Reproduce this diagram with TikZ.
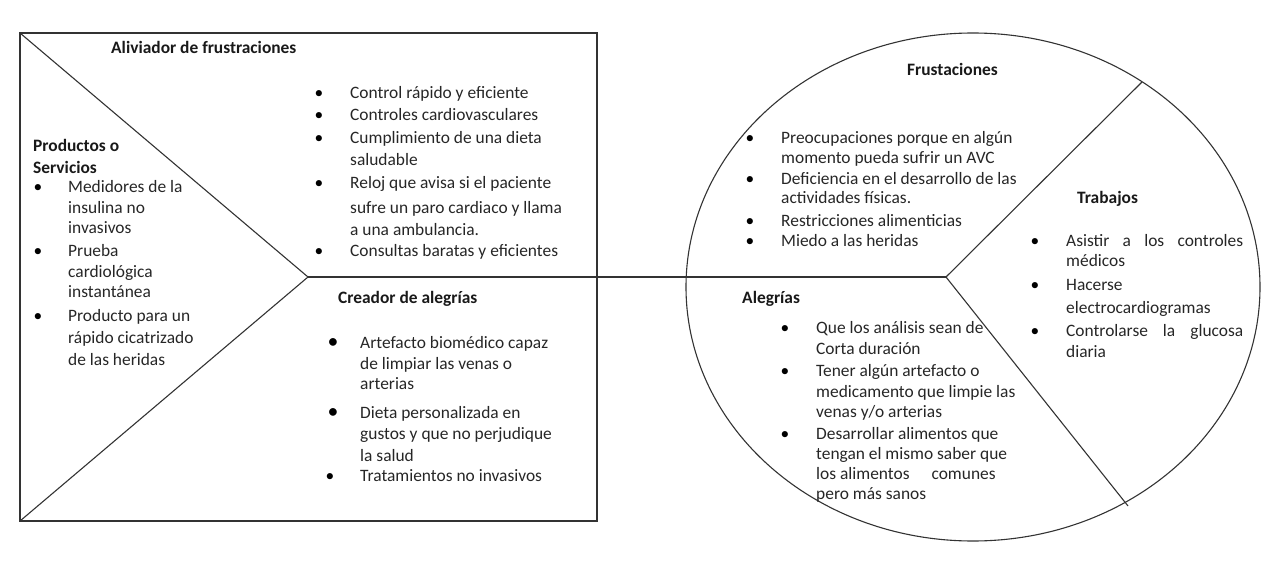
\documentclass[tikz,border=0pt]{standalone}
\usepackage{fontspec}
\setmainfont{Carlito}
\begin{document}
\begin{tikzpicture}[x=1pt,y=-1pt,
  ln/.style={line width=1.1pt, draw=black!80},
  tx/.style={anchor=base west, inner sep=0pt, yshift=-1pt, font=\fontsize{17.4}{21}\selectfont, text=black!85},
  hd/.style={anchor=base west, inner sep=0pt, yshift=-1pt, font=\fontsize{17.4}{21}\selectfont\bfseries, text=black!90},
  bu/.style={anchor=base, inner sep=0pt, yshift=-1pt, font=\fontsize{17.4}{21}\selectfont, text=black}]
\useasboundingbox (0,0) rectangle (1280,575);
% ---- shapes ----
\coordinate (tl) at (20,33);
\coordinate (br) at (597,521);
\coordinate (bl) at (20,521);
\coordinate (v1) at (308,277);
\coordinate (v2) at (946,277);
\coordinate (eu) at (1142,82);
\coordinate (ed) at (1128,506);
\coordinate (ec) at (973,287);
\draw[ln] (tl) rectangle (br);
\draw[ln] (tl) -- (v1) -- (bl);
\draw[ln] (v1) -- (v2);
\draw[ln] (ec) ellipse [x radius=287, y radius=254];
\draw[ln] (eu) -- (v2) -- (ed);

% Productos o Servicios
\node[hd] (p1) at (33,151) {Productos o};
\node[hd] (p2) at (33,172) {Servicios};
\node[bu] (pb1) at (38,192) {•};
\node[tx] (p3) at (68,192) {Medidores de la};
\node[tx] (p4) at (68,212) {insulina no};
\node[tx] (p5) at (68,232) {invasivos};
\node[bu] (pb2) at (38,255) {•};
\node[tx] (p6) at (68,255) {Prueba};
\node[tx] (p7) at (68,276) {cardiológica};
\node[tx] (p8) at (68,296) {instantánea};
\node[bu] (pb3) at (38,320) {•};
\node[tx] (p9) at (68,320) {Producto para un};
\node[tx] (p10) at (68,342) {rápido cicatrizado};
\node[tx] (p11) at (68,364) {de las heridas};

% Aliviador de frustraciones
\node[hd] (a0) at (111,53) {Aliviador de frustraciones};
\node[bu] (ab1) at (319,98) {•};
\node[tx] (a1) at (350,98) {Control rápido y eficiente};
\node[bu] (ab2) at (319,120) {•};
\node[tx] (a2) at (350,120) {Controles cardiovasculares};
\node[bu] (ab3) at (319,143) {•};
\node[tx] (a3) at (350,143) {Cumplimiento de una dieta};
\node[tx] (a4) at (350,165) {saludable};
\node[bu] (ab4) at (319,188) {•};
\node[tx] (a5) at (350,188) {Reloj que avisa si el paciente};
\node[tx] (a6) at (350,212) {sufre un paro cardiaco y llama};
\node[tx] (a7) at (350,234) {a una ambulancia.};
\node[bu] (ab5) at (319,255) {•};
\node[tx] (a8) at (350,255) {Consultas baratas y eficientes};

% Creador de alegrias
\node[hd] (c0) at (338,302) {Creador de alegrías};
\node[bu,scale=1.25] (cb1) at (333,347) {•};
\node[tx] (c1) at (360,347) {Artefacto biomédico capaz};
\node[tx] (c2) at (360,368) {de limpiar las venas o};
\node[tx] (c3) at (360,388) {arterias};
\node[bu,scale=1.25] (cb2) at (333,417) {•};
\node[tx] (c4) at (360,417) {Dieta personalizada en};
\node[tx] (c5) at (360,438) {gustos y que no perjudique};
\node[tx] (c6) at (360,460) {la salud};
\node[bu] (cb3) at (330,480) {•};
\node[tx] (c7) at (360,480) {Tratamientos no invasivos};

% Frustaciones
\node[hd] (f0) at (907,75) {Frustaciones};
\node[bu] (fb1) at (750,143) {•};
\node[tx] (f1) at (781,143) {Preocupaciones porque en algún};
\node[tx] (f2) at (781,163) {momento pueda sufrir un AVC};
\node[bu] (fb2) at (750,183) {•};
\node[tx] (f3) at (781,183) {Deficiencia en el desarrollo de las};
\node[tx] (f4) at (781,202) {actividades físicas.};
\node[bu] (fb3) at (750,225) {•};
\node[tx] (f5) at (781,225) {Restricciones alimenticias};
\node[bu] (fb4) at (750,245) {•};
\node[tx] (f6) at (781,245) {Miedo a las heridas};

% Trabajos
\node[hd] (t0) at (1077,202) {Trabajos};
\node[bu] (tb1) at (1035,245) {•};
\node[tx] (t1) at (1066,245) {\makebox[177pt][s]{Asistir a los controles}};
\node[tx] (t2) at (1066,265) {médicos};
\node[bu] (tb2) at (1035,289) {•};
\node[tx] (t3) at (1066,289) {Hacerse};
\node[tx] (t4) at (1066,312) {electrocardiogramas};
\node[bu] (tb3) at (1035,335) {•};
\node[tx] (t5) at (1066,335) {\makebox[177pt][s]{Controlarse la glucosa}};
\node[tx] (t6) at (1066,356) {diaria};

% Alegrias
\node[hd] (g0) at (742,302) {Alegrías};
\node[bu] (gb1) at (785,332) {•};
\node[tx] (g1) at (816,332) {Que los análisis sean de};
\node[tx] (g2) at (816,353) {Corta duración};
\node[bu] (gb2) at (785,375) {•};
\node[tx] (g3) at (816,375) {Tener algún artefacto o};
\node[tx] (g4) at (816,396) {medicamento que limpie las};
\node[tx] (g5) at (816,416) {venas y/o arterias};
\node[bu] (gb3) at (785,438) {•};
\node[tx] (g6) at (816,438) {Desarrollar alimentos que};
\node[tx] (g7) at (816,458) {tengan el mismo saber que};
\node[tx] (g8) at (816,478) {los alimentos\hspace{22pt}comunes};
\node[tx] (g9) at (816,498) {pero más sanos};
\end{tikzpicture}
\end{document}
